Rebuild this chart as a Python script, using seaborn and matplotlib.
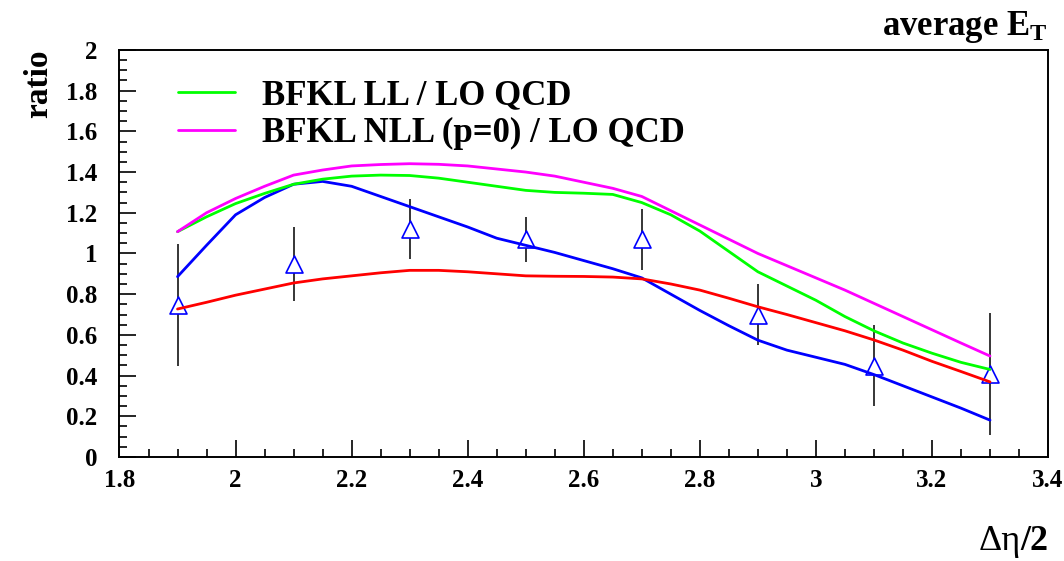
import matplotlib
matplotlib.use("Agg")
import matplotlib.pyplot as plt
from matplotlib.ticker import MultipleLocator
import seaborn as sns
import pandas as pd

# Rapidity-interval grid for the theory curves
eta_grid = [1.9, 1.95, 2.0, 2.05, 2.1, 2.15, 2.2, 2.25, 2.3, 2.35, 2.4, 2.45,
            2.5, 2.55, 2.6, 2.65, 2.7, 2.75, 2.8, 2.85, 2.9, 2.95, 3.0, 3.05,
            3.1, 3.15, 3.2, 3.25, 3.3]

bfkl_ll = [1.107, 1.18, 1.245, 1.295, 1.34, 1.365, 1.38, 1.385, 1.383, 1.37,
           1.35, 1.33, 1.31, 1.30, 1.296, 1.29, 1.25, 1.19, 1.11, 1.01, 0.91,
           0.84, 0.77, 0.69, 0.62, 0.56, 0.51, 0.465, 0.43]

bfkl_nll = [1.107, 1.2, 1.27, 1.33, 1.385, 1.41, 1.43, 1.437, 1.441, 1.438,
            1.43, 1.415, 1.40, 1.38, 1.35, 1.32, 1.28, 1.21, 1.14, 1.07, 1.00,
            0.94, 0.88, 0.82, 0.755, 0.69, 0.625, 0.56, 0.496]

curve_blue = [0.886, 1.04, 1.19, 1.275, 1.34, 1.354, 1.33, 1.28, 1.23, 1.18,
              1.13, 1.075, 1.04, 1.005, 0.965, 0.925, 0.88, 0.80, 0.72, 0.645,
              0.574, 0.525, 0.49, 0.455, 0.405, 0.35, 0.295, 0.24, 0.181]

curve_red = [0.727, 0.76, 0.795, 0.825, 0.855, 0.875, 0.89, 0.905, 0.917,
             0.917, 0.91, 0.90, 0.89, 0.888, 0.887, 0.884, 0.875, 0.85, 0.82,
             0.78, 0.738, 0.70, 0.66, 0.62, 0.575, 0.525, 0.47, 0.42, 0.369]

# Measured ratio with uncertainties
data_x = [1.9, 2.1, 2.3, 2.5, 2.7, 2.9, 3.1, 3.3]
data_y = [0.747, 0.948, 1.119, 1.069, 1.070, 0.699, 0.449, 0.408]
data_err = [0.30, 0.18, 0.148, 0.109, 0.15, 0.149, 0.199, 0.30]

label_ll = "BFKL LL / LO QCD"
label_nll = "BFKL NLL (p=0) / LO QCD"

sns.set_theme(style="ticks")
plt.rcParams["font.family"] = ["Liberation Serif", "DejaVu Serif"]
plt.rcParams["font.weight"] = "bold"
plt.rcParams["text.color"] = "black"
plt.rcParams["axes.labelcolor"] = "black"
plt.rcParams["xtick.color"] = "black"
plt.rcParams["ytick.color"] = "black"
plt.rcParams["mathtext.fontset"] = "custom"
plt.rcParams["mathtext.rm"] = "Liberation Serif"
plt.rcParams["mathtext.bf"] = "Liberation Serif:bold"

fig = plt.figure(figsize=(10.64, 5.61), dpi=100)
ax = fig.add_axes([0.1123, 0.1854, 0.8727, 0.7256])

theory = pd.DataFrame({
    "eta": eta_grid * 2,
    "ratio": bfkl_ll + bfkl_nll,
    "model": [label_ll] * len(eta_grid) + [label_nll] * len(eta_grid),
})
others = pd.DataFrame({
    "eta": eta_grid * 2,
    "ratio": curve_blue + curve_red,
    "model": ["blue"] * len(eta_grid) + ["red"] * len(eta_grid),
})
points = pd.DataFrame({"eta": data_x, "ratio": data_y})

ax.errorbar(data_x, data_y, yerr=data_err, fmt="none", ecolor="black",
            elinewidth=1.1, capsize=0, zorder=2)
sns.scatterplot(data=points, x="eta", y="ratio", marker="^", s=150,
                facecolor="white", edgecolor="#0000ff", linewidth=1.2,
                ax=ax, zorder=3, legend=False)
sns.lineplot(data=others, x="eta", y="ratio", hue="model",
             palette={"blue": "#0000ff", "red": "#ff0000"}, linewidth=2.0,
             ax=ax, legend=False, zorder=4, sort=False)
sns.lineplot(data=theory, x="eta", y="ratio", hue="model",
             palette={label_ll: "#00ff00", label_nll: "#ff00ff"},
             linewidth=2.0, ax=ax, zorder=5, sort=False)

ax.set_xlim(1.8, 3.4)
ax.set_ylim(0, 2)
ax.xaxis.set_major_locator(MultipleLocator(0.2))
ax.xaxis.set_minor_locator(MultipleLocator(0.05))
ax.yaxis.set_major_locator(MultipleLocator(0.2))
ax.yaxis.set_minor_locator(MultipleLocator(0.05))
ax.xaxis.set_major_formatter(plt.FuncFormatter(lambda v, p: f"{v:g}"))
ax.yaxis.set_major_formatter(plt.FuncFormatter(lambda v, p: f"{v:g}"))
ax.tick_params(which="both", direction="in", top=False, right=False,
               labelsize=18, colors="black", width=1.2)
ax.tick_params(which="major", length=12)
ax.tick_params(which="minor", length=6)
ax.tick_params(axis="x", which="major", pad=9)
ax.tick_params(axis="y", which="major", pad=16)
for lab in ax.get_xticklabels() + ax.get_yticklabels():
    lab.set_fontweight("bold")
for side in ["left", "bottom", "top", "right"]:
    ax.spines[side].set_visible(True)
    ax.spines[side].set_color("black")
    ax.spines[side].set_linewidth(1.4)

ax.set_xlabel("")
ax.set_ylabel("")

leg = ax.legend(loc="upper left", bbox_to_anchor=(0.063, 0.928),
                frameon=False, fontsize=25, handlelength=1.65,
                handletextpad=0.78, labelspacing=0.15, borderpad=0,
                borderaxespad=0)
for t in leg.get_texts():
    t.set_fontweight("bold")

fig.text(0.036, 0.912, "ratio", rotation=90, ha="center", va="top",
         fontsize=24, fontweight="bold")
fig.text(0.985, 0.937, r"average $\mathbf{E_T}$", ha="right", va="baseline",
         fontsize=25, fontweight="bold")
t1 = fig.text(0.959, 0.02, "Δη", ha="right", va="baseline",
              fontsize=26, fontweight="normal")
ax.annotate("/2", xy=(1, 0), xycoords=t1, ha="left", va="bottom",
            fontsize=26, fontweight="bold", annotation_clip=False)

fig.savefig("out.png", dpi=100)
